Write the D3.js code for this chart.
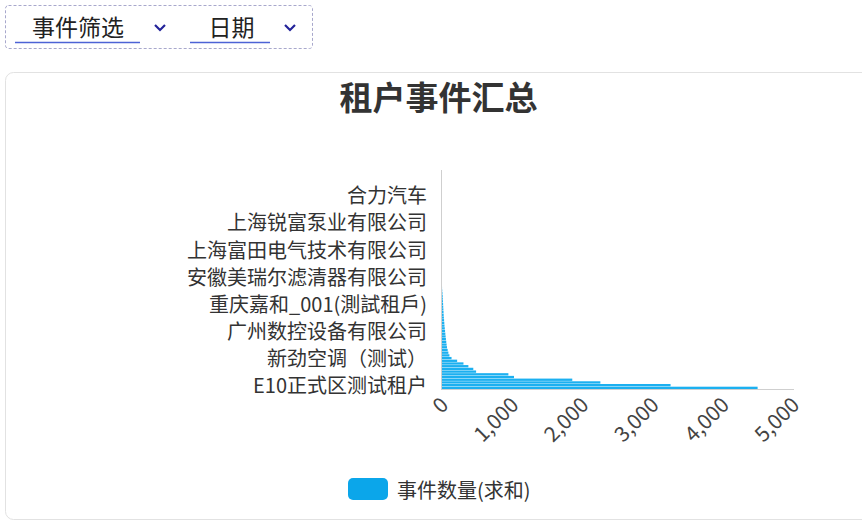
<!DOCTYPE html>
<html><head><meta charset="utf-8">
<script src="https://cdn.jsdelivr.net/npm/d3@7"></script>
<style>
body{margin:0;background:#fff;}
svg{display:block;font-family:"Noto Sans CJK SC","Noto Sans",sans-serif;}
</style>
</head><body><svg id="c" width="862" height="524"></svg>
<script>
// ---- data ----
const filterLabels = ["事件筛选", "日期"];
const chartTitle = "租户事件汇总";
const seriesName = "事件数量(求和)";
// categories from bottom (largest) to top; only every 10th name is shown on the axis
const categories = [
  "E10正式区测试租户", null, null, null, null, null, null, null, null, null,
  "新劲空调（测试）", null, null, null, null, null, null, null, null, null,
  "广州数控设备有限公司", null, null, null, null, null, null, null, null, null,
  "重庆嘉和_001(測試租戶)", null, null, null, null, null, null, null, null, null,
  "安徽美瑞尔滤清器有限公司", null, null, null, null, null, null, null, null, null,
  "上海富田电气技术有限公司", null, null, null, null, null, null, null, null, null,
  "上海锐富泵业有限公司", null, null, null, null, null, null, null, null, null,
  "合力汽车", null, null, null, null, null, null, null, null, null,
  null
];
const values = [
  4510, 3270, 2270, 1870, 1040, 960, 500, 460, 390, 320,
  230, 150, 120, 105, 95, 85, 80, 75, 70, 66,
  62, 58, 54, 50, 47, 44, 41, 38, 36, 34,
  32, 30, 28, 26, 24, 21, 18, 15, 12, 10,
  8, 6, 5, 4, 3, 3, 2, 2, 2, 1,
  1, 1, 1, 1, 1, 1, 1, 1, 1, 1,
  1, 1, 1, 1, 1, 1, 1, 1, 1, 1,
  1, 1, 1, 1, 1, 1, 1, 1, 1, 1,
  1
];
const xTicks = [0, 1000, 2000, 3000, 4000, 5000];

// ---- drawing ----
const svg = d3.select("#c");
const textColor = "#333";
const barColor = "#1cb0f0";

// filter bar
svg.append("rect").attr("x", 5.5).attr("y", 5.5).attr("width", 307).attr("height", 43)
  .attr("rx", 3).attr("fill", "none").attr("stroke", "#a8a8cc").attr("stroke-dasharray", "3,2");
const filterPos = [{tx: 78, ux0: 15, ux1: 140, cx: 160}, {tx: 231.5, ux0: 190, ux1: 270, cx: 290}];
filterLabels.forEach((t, i) => {
  const p = filterPos[i];
  svg.append("text").attr("x", p.tx).attr("y", 26).attr("text-anchor", "middle")
    .attr("dominant-baseline", "central").attr("font-size", 23).attr("fill", "#222").text(t);
  svg.append("line").attr("x1", p.ux0).attr("x2", p.ux1).attr("y1", 42.5).attr("y2", 42.5)
    .attr("stroke", "#4d63d6").attr("stroke-width", 1.5);
  svg.append("path").attr("d", `M${p.cx-5},${25} L${p.cx},${30} L${p.cx+5},${25}`)
    .attr("fill", "none").attr("stroke", "#23239a").attr("stroke-width", 2.2);
});

// card
svg.append("rect").attr("x", 5.5).attr("y", 72.5).attr("width", 880).attr("height", 447)
  .attr("rx", 8).attr("fill", "#fff").attr("stroke", "#e2e2e2");

// title
svg.append("text").attr("x", 438.5).attr("y", 96).attr("text-anchor", "middle")
  .attr("dominant-baseline", "central").attr("font-size", 33).attr("font-weight", "bold")
  .attr("fill", textColor).text(chartTitle);

// scales
const x = d3.scaleLinear().domain([0, 5000]).range([441, 792]);
const y = d3.scaleBand().domain(d3.range(values.length)).range([389, 170.3]).paddingInner(0.15);

// bars
svg.append("g").selectAll("rect").data(values).join("rect")
  .attr("x", x(0)).attr("y", (d, i) => y(i))
  .attr("width", d => x(d) - x(0)).attr("height", y.bandwidth())
  .attr("fill", barColor);

// y axis
const yAxis = svg.append("g").attr("transform", `translate(${x(0)},0)`)
  .call(d3.axisLeft(y).tickValues(d3.range(values.length).filter(i => categories[i]))
    .tickFormat(i => categories[i]).tickSize(0).tickPadding(14));
yAxis.select(".domain").remove();
yAxis.selectAll("text").attr("font-size", 20).attr("fill", textColor)
  .attr("font-family", '"Noto Sans CJK SC",sans-serif').attr("y", -1.5);
svg.append("line").attr("x1", x(0) + 0.5).attr("x2", x(0) + 0.5).attr("y1", 170).attr("y2", 389.5)
  .attr("stroke", "#cfcfcf");

// x axis
const xAxis = svg.append("g").attr("transform", "translate(0,389)")
  .call(d3.axisBottom(x).tickValues(xTicks).tickFormat(d3.format(",")).tickSize(0));
xAxis.select(".domain").remove();
xAxis.selectAll("text").attr("y", null).attr("dy", "0.35em")
  .attr("transform", "translate(3,12) rotate(-45)").attr("text-anchor", "end")
  .attr("font-size", 21).attr("fill", "#444")
  .attr("font-family", '"Noto Sans CJK SC",sans-serif');
svg.append("line").attr("x1", x(0)).attr("x2", 794).attr("y1", 389.5).attr("y2", 389.5)
  .attr("stroke", "#cfcfcf");

// legend
svg.append("rect").attr("x", 348).attr("y", 478).attr("width", 40).attr("height", 22)
  .attr("rx", 5).attr("fill", "#0ba6ea");
svg.append("text").attr("x", 397).attr("y", 489).attr("dominant-baseline", "central")
  .attr("font-size", 20).attr("fill", textColor).text(seriesName);
</script>
</body></html>
